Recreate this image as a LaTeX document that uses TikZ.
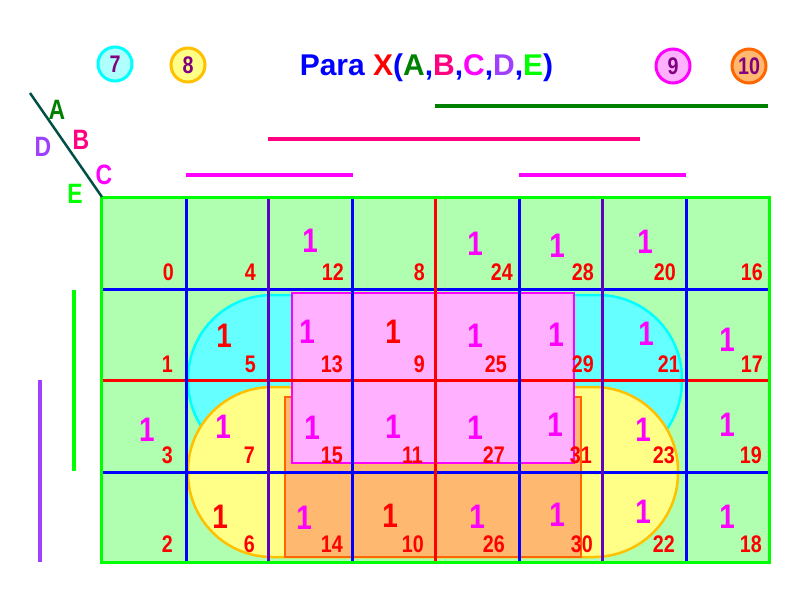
\documentclass[tikz,border=0pt]{standalone}
\usepackage{fontspec}
\newfontfamily\kfont{Liberation Sans Bold}[FakeStretch=0.82]
\newfontfamily\tfont{Liberation Sans Bold}
\definecolor{cellgreen}{HTML}{B0FFB0}
\definecolor{bordergreen}{HTML}{00FF00}
\definecolor{gblue}{HTML}{0000FF}
\definecolor{gred}{HTML}{FF0000}
\definecolor{gpurple}{HTML}{6000C0}
\definecolor{cyfill}{HTML}{66FFFF}
\definecolor{cyline}{HTML}{00FFFF}
\definecolor{cylight}{HTML}{B0FFFF}
\definecolor{yefill}{HTML}{FFFF88}
\definecolor{yeline}{HTML}{FFC000}
\definecolor{pkfill}{HTML}{FFB0FF}
\definecolor{pkline}{HTML}{FF00FF}
\definecolor{orfill}{HTML}{FFB870}
\definecolor{orline}{HTML}{FF6600}
\definecolor{txtpurple}{HTML}{800080}
\definecolor{colA}{HTML}{008000}
\definecolor{colB}{HTML}{FF0080}
\definecolor{colC}{HTML}{FF00FF}
\definecolor{colD}{HTML}{A040FF}
\definecolor{colE}{HTML}{00FF00}
\definecolor{diag}{HTML}{005048}
\tikzset{
  num/.style={inner sep=0pt, anchor=base east, text=gred, font=\kfont\fontsize{24}{24}\selectfont},
  one/.style={inner sep=0pt, font=\kfont\fontsize{34}{34}\selectfont},
  varlbl/.style={inner sep=0pt, font=\kfont\fontsize{28}{28}\selectfont},
  badge/.style={circle, line width=3pt, minimum size=34pt, inner sep=0pt, text=txtpurple, font=\kfont\fontsize{24}{24}\selectfont},
  gline/.style={line width=3pt},
  bar/.style={line width=3.5pt}
}
\begin{document}
\begin{tikzpicture}[x=1pt,y=-1pt]
\useasboundingbox (0,0) rectangle (800,600);
% background of map
\fill[cellgreen] (101,197) rectangle (769,562);
% groups
\draw[line width=2.5pt, draw=cyline, fill=cyfill, rounded corners=84pt] (188,295) rectangle (682,465);
\draw[line width=2.5pt, draw=yeline, fill=yefill, rounded corners=84pt] (188,387) rectangle (678,557);
\draw[line width=2.5pt, draw=orline, fill=orfill] (285,397) rectangle (581,557);
\draw[line width=2.5pt, draw=pkline, fill=pkfill] (292,293) rectangle (574,463);
% grid lines
\draw[gline, gblue] (101,289) -- (771,289);
\draw[gline, gred] (101,380) -- (771,380);
\draw[gline, gblue] (101,472) -- (771,472);
\draw[gline, gblue] (186,197) -- (186,562);
\draw[gline, gpurple] (268,197) -- (268,562);
\draw[gline, gblue] (352,197) -- (352,562);
\draw[gline, gred] (435,197) -- (435,562);
\draw[gline, gblue] (519,197) -- (519,562);
\draw[gline, gpurple] (602,197) -- (602,562);
\draw[gline, gblue] (686,197) -- (686,562);
\draw[gline, bordergreen] (101,197) rectangle (769,562);
% cell numbers
\foreach \n/\x/\y in {0/174/280,4/256/280,12/344/280,8/425/280,24/513/280,28/594/280,20/676/280,16/763/280,
  1/173/372,5/256/372,13/343/372,9/425/372,25/507/372,29/594/372,21/680/372,17/763/372,
  3/173/463,7/255/463,15/343/463,11/423/463,27/505/463,31/592/463,23/675/463,19/762/463,
  2/173/552,6/255/552,14/343/552,10/424/552,26/505/552,30/593/552,22/675/552,18/762/552}
  \node[num] (n\n) at (\x,\y) {\n};
% ones
\foreach \n/\x/\y/\c in {12/310/241/colC,24/475/244/colC,28/557/246/colC,20/645/242/colC,
  5/224/336/gred,13/307/332/colC,9/393/332/gred,25/475/336/colC,29/556/335/colC,21/646/334/colC,17/727/340/colC,
  3/147/430/colC,7/223/427/colC,15/312/428/colC,11/393/427/colC,27/475/428/colC,31/555/425/colC,23/643/430/colC,19/727/425/colC,
  6/220/517/gred,14/304/518/colC,10/390/516/gred,26/477/517/colC,30/557/515/colC,22/643/512/colC,18/727/517/colC}
  \node[one, text=\c] (o\n) at (\x,\y) {1};
% variable bars
\draw[bar, colA] (435,106) -- (768,106);
\draw[bar, colB] (268,139) -- (640,139);
\draw[bar, colC] (186,175) -- (353,175);
\draw[bar, colC] (519,175) -- (686,175);
\draw[bar, colE] (74,290) -- (74,471);
\draw[bar, colD] (40,380) -- (40,562);
% corner
\coordinate (d1) at (30,93);
\coordinate (d2) at (102,197);
\draw[line width=2.5pt, diag] (d1) -- (d2);
\node[varlbl, text=colA] (lA) at (57,110) {A};
\node[varlbl, text=colB] (lB) at (81,140) {B};
\node[varlbl, text=colC] (lC) at (104,175) {C};
\node[varlbl, text=colD] (lD) at (43,147) {D};
\node[varlbl, text=colE] (lE) at (75,194) {E};
% badges
\node[badge, draw=cyline, fill=cylight] (b7) at (115,64) {7};
\node[badge, draw=yeline, fill=yefill] (b8) at (188,65) {8};
\node[badge, draw=pkline, fill=pkfill] (b9) at (673,66) {9};
\node[badge, draw=orline, fill=orfill] (b10) at (749,66) {10};
% title
\node[inner sep=0pt, anchor=base, font=\tfont\fontsize{30}{30}\selectfont] (title) at (426.5,75)
 {\textcolor{gblue}{Para }\textcolor{gred}{X}\textcolor{gblue}{(}\textcolor{colA}{A}\textcolor{gblue}{,}\textcolor{colB}{B}\textcolor{gblue}{,}\textcolor{colC}{C}\textcolor{gblue}{,}\textcolor{colD}{D}\textcolor{gblue}{,}\textcolor{colE}{E}\textcolor{gblue}{)}};
\end{tikzpicture}
\end{document}
